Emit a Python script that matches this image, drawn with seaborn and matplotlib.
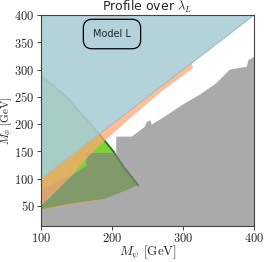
import numpy as np
import matplotlib
matplotlib.use('Agg')
import matplotlib.pyplot as plt
import seaborn as sns

sns.set_theme(style='ticks')
plt.rcParams['font.family'] = 'serif'
plt.rcParams['font.serif'] = ['cmr10', 'DejaVu Serif']
plt.rcParams['mathtext.fontset'] = 'cm'
plt.rcParams['axes.formatter.use_mathtext'] = True

# --- data: region boundaries in (M_psi, M_phi) [GeV] ---
diag_mpsi = np.array([100, 400])
diag_mphi = np.array([100, 400])

# green region (arc on the upper side)
green_mpsi = [100, 100, 136, 183, 202, 216, 237, 188, 136, 100]
green_mphi = [43, 288, 250, 180, 150, 122, 88, 62, 52, 43]
arc_mpsi = [100, 136, 183, 202, 216, 237]
arc_mphi = [288, 250, 180, 150, 122, 88]
edge_mpsi = [100, 136, 188]
edge_mphi = [43, 52, 62]

# grey excluded region
grey_mpsi = [100, 100, 110, 120, 130, 140, 150, 162, 164, 164, 206, 206, 228, 246, 249,
             254, 256, 277, 300, 325, 347, 366, 390, 392, 400, 400]
grey_mphi = [13, 79, 86, 93, 99, 105, 112, 121, 121, 147, 147, 177, 177, 195, 204,
             207, 199, 216, 236, 255, 275, 300, 305, 317, 323, 13]

# orange band below the diagonal
orange_mpsi = [100, 312, 314, 312, 270, 225, 187, 176, 164, 142, 120, 100]
orange_mphi = [100, 312, 303, 300, 260, 210, 166, 152, 137, 103, 75, 50]

xticks = [100, 200, 300, 400]
yticks = [50, 100, 150, 200, 250, 300, 350, 400]

fig = plt.figure(figsize=(2.66, 2.62), dpi=100)
ax = fig.add_axes([0.154, 0.137, 0.801, 0.806])

ax.fill(green_mpsi, green_mphi, color='#82cf3c', lw=0, zorder=1)
sns.lineplot(x=arc_mpsi, y=arc_mphi, sort=False, color='#1e7a0a', lw=1.3, ax=ax, zorder=1.1)
ax.fill(grey_mpsi, grey_mphi, color='#808080', alpha=0.67, lw=0, zorder=1.2)
ax.plot(edge_mpsi, edge_mphi, color='#e0a850', lw=0.7, zorder=1.3)
ax.fill(orange_mpsi, orange_mphi, color='#ffa771', alpha=0.74, lw=0, zorder=1.4)
ax.fill_between(diag_mpsi, diag_mphi, 400, color='#acCdd6', alpha=0.9, lw=0, zorder=1.5)
ax.plot(diag_mpsi, diag_mphi, color='#92bfcc', lw=0.6, zorder=1.6)

ax.text(200, 365, 'Model L', family='DejaVu Sans', fontsize=7, ha='center', va='center',
        zorder=3,
        bbox=dict(boxstyle='round,pad=1.0,rounding_size=0.9', fc='none', ec='black', lw=0.9))

ax.set_xlim(100, 400)
ax.set_ylim(13, 400)
ax.set_xticks(xticks)
ax.set_yticks(yticks)
ax.tick_params(labelsize=9, length=3, width=0.6, pad=1.5)
ax.set_xlabel(r'$M_\psi$ [GeV]', fontsize=9.5, labelpad=-1)
ax.set_ylabel(r'$M_\phi$ [GeV]', fontsize=8)
ax.yaxis.set_label_coords(-0.118, 0.5)
ax.set_title(r'Profile over $\lambda_L$', family='DejaVu Sans', fontsize=9, pad=2)
for s in ax.spines.values():
    s.set_color('#444444')
    s.set_linewidth(0.8)

fig.savefig('out.png', dpi=100)
